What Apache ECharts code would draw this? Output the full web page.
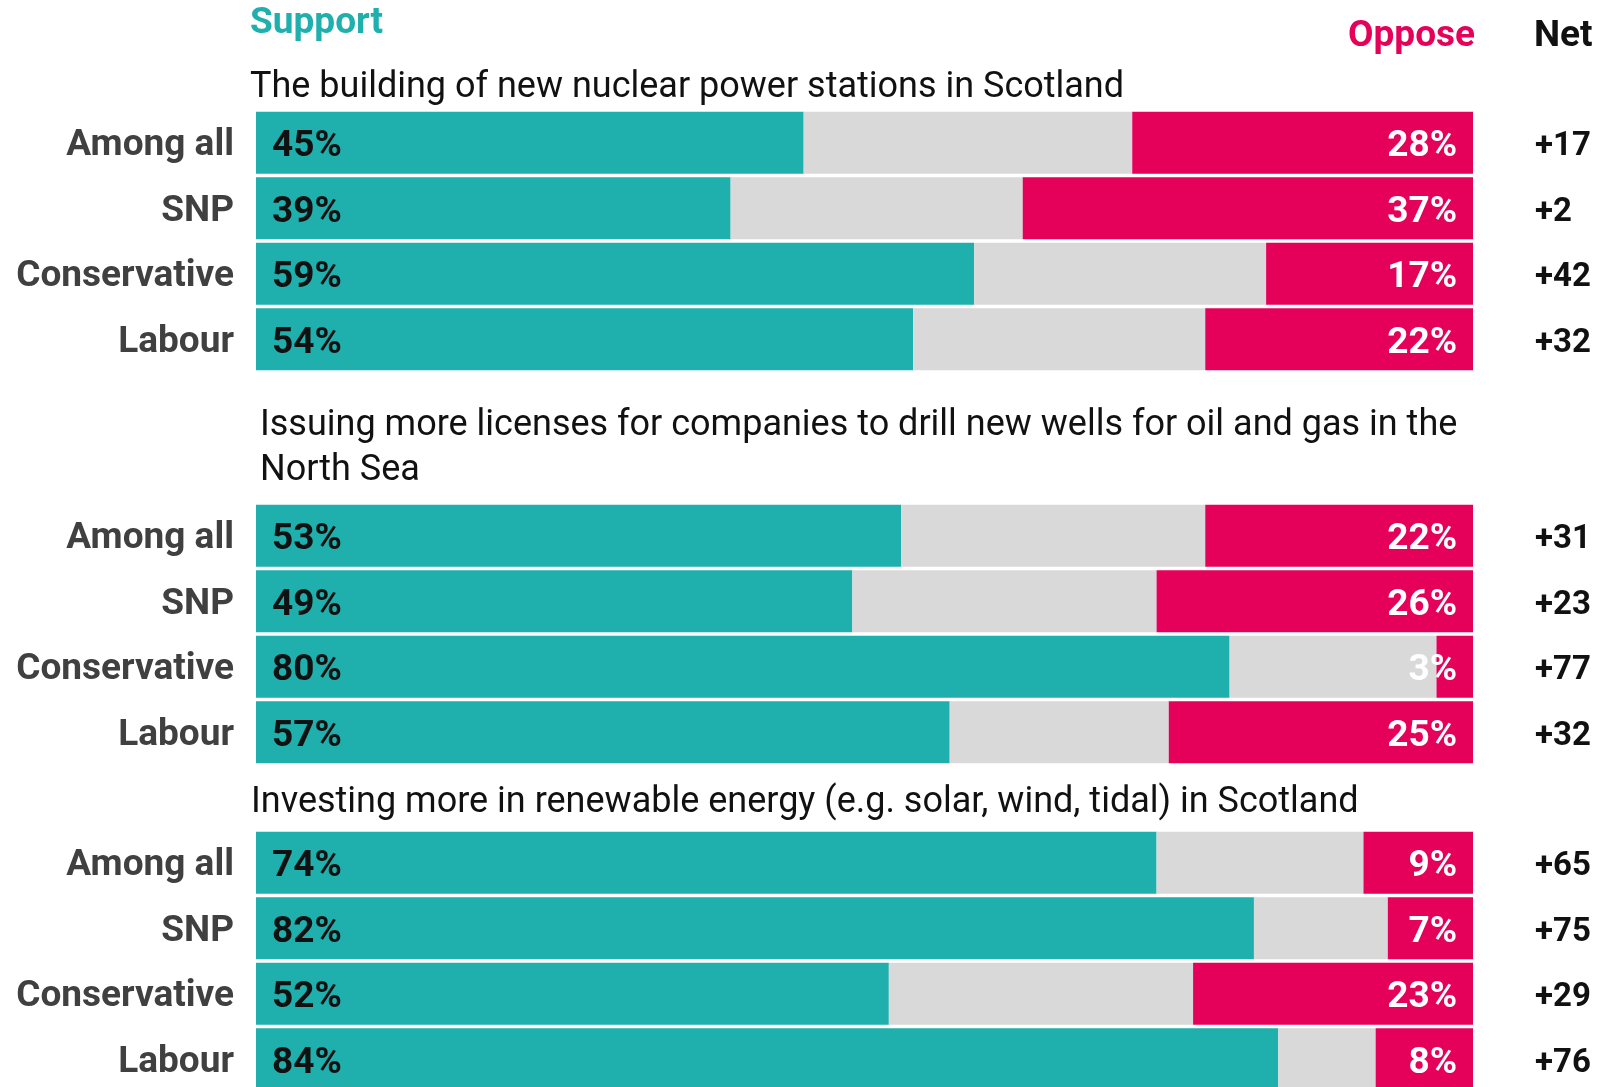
<!DOCTYPE html>
<html>
<head>
<meta charset="utf-8">
<script src="https://cdn.jsdelivr.net/npm/echarts@6/dist/echarts.min.js"></script>
<style>
  html, body { margin: 0; padding: 0; background: #fff; }
  #chart { width: 1623px; height: 1087px; }
</style>
</head>
<body>
<div id="chart"></div>
<script>
// groups shown in every block
var categories = ['Among all', 'SNP', 'Conservative', 'Labour'];

var questions = [
    'The building of new nuclear power stations in Scotland',
    'Issuing more licenses for companies to drill new wells for oil and gas in the\nNorth Sea',
    'Investing more in renewable energy (e.g. solar, wind, tidal) in Scotland'
];

// nuclear power stations
var supportNuclear = [45, 39, 59, 54];
var neutralNuclear = [27, 24, 24, 24];
var opposeNuclear  = [28, 37, 17, 22];
var netNuclear     = ['+17', '+2', '+42', '+32'];

// oil and gas licences
var supportOil = [53, 49, 80, 57];
var neutralOil = [25, 25, 17, 18];
var opposeOil  = [22, 26, 3, 25];
var netOil     = ['+31', '+23', '+77', '+32'];

// renewables
var supportRenew = [74, 82, 52, 84];
var neutralRenew = [17, 11, 25, 8];
var opposeRenew  = [9, 7, 23, 8];
var netRenew     = ['+65', '+75', '+29', '+76'];

var TEAL = '#1fafad';
var PINK = '#e5005a';
var GREY = '#d9d9d9';
var FONT = "Roboto, 'Noto Sans', sans-serif";

var blocks = [
    {support: supportNuclear, neutral: neutralNuclear, oppose: opposeNuclear, net: netNuclear, top: 110},
    {support: supportOil, neutral: neutralOil, oppose: opposeOil, net: netOil, top: 503},
    {support: supportRenew, neutral: neutralRenew, oppose: opposeRenew, net: netRenew, top: 830}
];

var grids = [], xAxes = [], yAxes = [], series = [];
blocks.forEach(function (b, i) {
    grids.push({left: 256, right: 150, top: b.top, height: 262, containLabel: false, outerBoundsMode: 'none'});
    xAxes.push({type: 'value', gridIndex: i, min: 0, max: 100, show: false});
    // labels nudged a few px below the bar centre, like the original
    yAxes.push({
        type: 'category', gridIndex: i, data: categories, inverse: true,
        axisLine: {show: false}, axisTick: {show: false},
        axisLabel: {margin: 22, color: '#404040', fontFamily: FONT, fontWeight: 'bold', fontSize: 37,
            verticalAlign: 'top', lineHeight: 6}
    });
    yAxes.push({
        type: 'category', gridIndex: i, data: b.net, inverse: true, position: 'right',
        axisLine: {show: false}, axisTick: {show: false},
        axisLabel: {margin: 62, color: '#111', fontFamily: FONT, fontWeight: 'bold', fontSize: 33,
            verticalAlign: 'top', lineHeight: 8}
    });
    var stack = 'q' + i;
    series.push({
        type: 'bar', xAxisIndex: i, yAxisIndex: i * 2, stack: stack, barWidth: 62,
        data: b.support, itemStyle: {color: TEAL},
        label: {show: true, position: 'insideLeft', distance: 16, offset: [0, 4], formatter: '{c}%',
            color: '#111', fontFamily: FONT, fontWeight: 'bold', fontSize: 37},
        silent: true
    });
    series.push({
        type: 'bar', xAxisIndex: i, yAxisIndex: i * 2, stack: stack, barWidth: 62,
        data: b.neutral, itemStyle: {color: GREY}, silent: true
    });
    series.push({
        type: 'bar', xAxisIndex: i, yAxisIndex: i * 2, stack: stack, barWidth: 62,
        data: b.oppose, itemStyle: {color: PINK},
        label: {show: true, position: 'insideRight', distance: 16, offset: [0, 4], formatter: '{c}%',
            color: '#fff', fontFamily: FONT, fontWeight: 'bold', fontSize: 37},
        silent: true
    });
});

function txt(x, y, text, opts) {
    var style = {x: x, y: y, text: text, fill: opts.fill || '#111',
        font: (opts.weight || 'normal') + ' ' + opts.size + 'px ' + FONT,
        textAlign: opts.align || 'left', textVerticalAlign: 'middle'};
    if (opts.lineHeight) style.lineHeight = opts.lineHeight;
    return {type: 'text', style: style, silent: true};
}

var option = {
    animation: false,
    backgroundColor: '#fff',
    grid: grids,
    xAxis: xAxes,
    yAxis: yAxes,
    series: series,
    graphic: [
        txt(250, 24, 'Support', {fill: TEAL, weight: 'bold', size: 37}),
        txt(1475, 37, 'Oppose', {fill: PINK, weight: 'bold', size: 37, align: 'right'}),
        txt(1534, 37, 'Net', {fill: '#111', weight: 'bold', size: 37}),
        txt(250, 88, questions[0], {size: 36}),
        txt(260, 448, questions[1], {size: 36, lineHeight: 45}),
        txt(251, 803, questions[2], {size: 36})
    ]
};

var chart = echarts.init(document.getElementById('chart'));
chart.setOption(option);
</script>
</body>
</html>
